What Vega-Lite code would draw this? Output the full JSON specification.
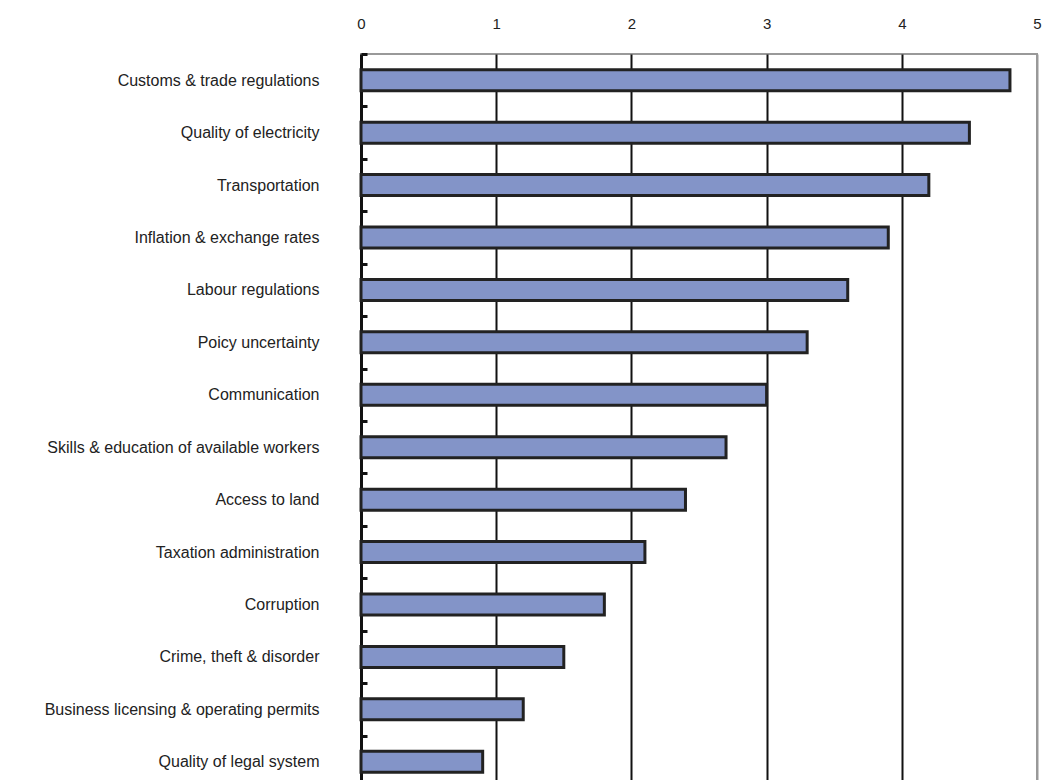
{
  "$schema": "https://vega.github.io/schema/vega-lite/v6.json",
  "width": 676,
  "height": 734,
  "autosize": {"type": "none"},
  "padding": {"left": 361, "top": 54, "right": 8, "bottom": 0},
  "background": "white",
  "config": {
    "font": "Liberation Sans",
    "view": {"stroke": "#999999", "strokeWidth": 2}
  },
  "data": {
    "values": [
      {"factor": "Customs & trade regulations", "value": 4.8},
      {"factor": "Quality of electricity", "value": 4.5},
      {"factor": "Transportation", "value": 4.2},
      {"factor": "Inflation & exchange rates", "value": 3.9},
      {"factor": "Labour regulations", "value": 3.6},
      {"factor": "Poicy uncertainty", "value": 3.3},
      {"factor": "Communication", "value": 3.0},
      {"factor": "Skills & education of available workers", "value": 2.7},
      {"factor": "Access to land", "value": 2.4},
      {"factor": "Taxation administration", "value": 2.1},
      {"factor": "Corruption", "value": 1.8},
      {"factor": "Crime, theft & disorder", "value": 1.5},
      {"factor": "Business licensing & operating permits", "value": 1.2},
      {"factor": "Quality of legal system", "value": 0.9}
    ]
  },
  "mark": {"type": "bar", "fill": "#8394C8", "stroke": "#222222", "strokeWidth": 3},
  "encoding": {
    "y": {
      "field": "factor",
      "type": "nominal",
      "sort": null,
      "scale": {"paddingInner": 0.6, "paddingOuter": 0.3},
      "axis": {
        "title": null,
        "domainColor": "#111111",
        "domainWidth": 3,
        "tickOffset": -26.2,
        "labelOffset": 26.2,
        "tickSize": -6,
        "tickWidth": 3,
        "tickColor": "#111111",
        "labelFontSize": 16,
        "labelColor": "#222222",
        "labelPadding": 48,
        "labelLimit": 400
      }
    },
    "x": {
      "field": "value",
      "type": "quantitative",
      "scale": {"domain": [0, 5], "nice": false},
      "axis": {
        "orient": "top",
        "title": null,
        "values": [0, 1, 2, 3, 4, 5],
        "domain": false,
        "ticks": false,
        "labelPadding": 23,
        "labelFontSize": 15,
        "labelColor": "#222222",
        "labelFlush": false,
        "grid": true,
        "gridColor": {"condition": {"test": "datum.value == 5 || datum.value == 0", "value": "#999999"}, "value": "#111111"},
        "gridWidth": 2,
        "gridOpacity": 1
      }
    }
  }
}
